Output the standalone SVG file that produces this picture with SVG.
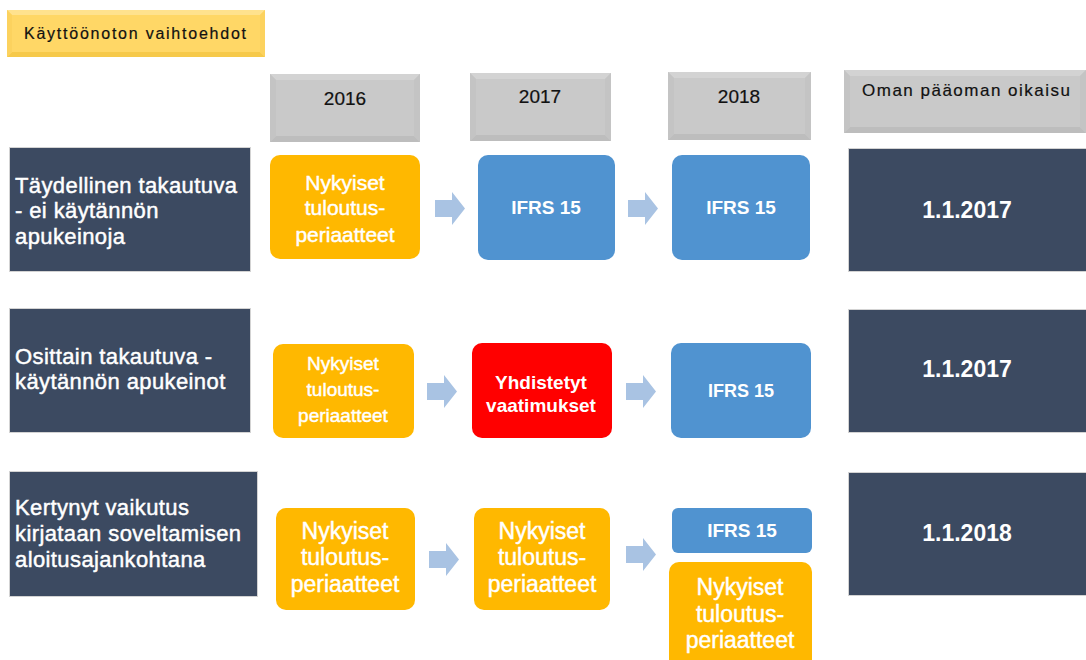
<svg xmlns="http://www.w3.org/2000/svg" xmlns:xlink="http://www.w3.org/1999/xlink" width="1086" height="660" viewBox="0 0 1086 660">
<style>
text { font-family: "Liberation Sans", Arial, sans-serif; }
.hdr { fill: #C9C9C9; }
.hb-t { fill: #D3D3D3; }
.hb-b { fill: #BDBDBD; }
.hb-s { fill: #C4C4C4; }
.tt { fill: #FFD766; }
.tb-t { fill: #FFE28E; }
.tb-b { fill: #F6C94A; }
.tb-s { fill: #FCD25E; }
.dark { fill: #3C4A61; stroke: #D3D3D3; stroke-width: 1; }
.org { fill: #FFB800; }
.blu { fill: #5093D0; }
.red { fill: #FF0000; }
.arr { fill: #A9C3E3; }
.htxt { fill: #111111; font-size: 19px; text-anchor: middle; stroke: #111111; stroke-width: 0.2px; }
.lbl { fill: #FFFFFF; font-size: 22px; letter-spacing: 0.4px; stroke: #FFFFFF; stroke-width: 0.45px; }
.otx { fill: #FFFFFF; text-anchor: middle; stroke: #FFFFFF; stroke-width: 0.45px; }
.btx { fill: #FFFFFF; font-weight: bold; text-anchor: middle; }
</style>
<defs>
<polygon id="arrow" points="0,8 17,8 17,0 30,16.5 17,33 17,25 0,25"/>
</defs>

<g id="title">
<rect class="tt" x="7" y="10" width="258" height="47"/>
<polygon class="tb-t" points="7,10 265,10 260,15 12,15"/>
<polygon class="tb-b" points="7,57 265,57 260,52 12,52"/>
<polygon class="tb-s" points="7,10 12,15 12,52 7,57"/>
<polygon class="tb-s" points="265,10 260,15 260,52 265,57"/>
<text x="24" y="39" font-size="16" fill="#111111" stroke="#111111" stroke-width="0.2" textLength="222">Käyttöönoton vaihtoehdot</text>
</g>

<g id="hdr-2016">
<rect class="hdr" x="270" y="74" width="150" height="68"/>
<polygon class="hb-t" points="270,74 420,74 414,80 276,80"/>
<polygon class="hb-b" points="270,142 420,142 414,136 276,136"/>
<polygon class="hb-s" points="270,74 276,80 276,136 270,142"/>
<polygon class="hb-s" points="420,74 414,80 414,136 420,142"/>
<text class="htxt" x="345" y="105">2016</text>
</g>
<g id="hdr-2017">
<rect class="hdr" x="470" y="73" width="141" height="68"/>
<polygon class="hb-t" points="470,73 611,73 605,79 476,79"/>
<polygon class="hb-b" points="470,141 611,141 605,135 476,135"/>
<polygon class="hb-s" points="470,73 476,79 476,135 470,141"/>
<polygon class="hb-s" points="611,73 605,79 605,135 611,141"/>
<text class="htxt" x="540" y="103">2017</text>
</g>
<g id="hdr-2018">
<rect class="hdr" x="668" y="72" width="143" height="68"/>
<polygon class="hb-t" points="668,72 811,72 805,78 674,78"/>
<polygon class="hb-b" points="668,140 811,140 805,134 674,134"/>
<polygon class="hb-s" points="668,72 674,78 674,134 668,140"/>
<polygon class="hb-s" points="811,72 805,78 805,134 811,140"/>
<text class="htxt" x="739" y="103">2018</text>
</g>
<g id="hdr-oman">
<rect class="hdr" x="844" y="70" width="242" height="63"/>
<polygon class="hb-t" points="844,70 1086,70 1080,76 850,76"/>
<polygon class="hb-b" points="844,133 1086,133 1080,127 850,127"/>
<polygon class="hb-s" points="844,70 850,76 850,127 844,133"/>
<polygon class="hb-s" points="1086,70 1080,76 1080,127 1086,133"/>
<text x="862" y="96" font-size="17" fill="#111111" stroke="#111111" stroke-width="0.2" textLength="208">Oman pääoman oikaisu</text>
</g>

<g id="row1-label">
<rect class="dark" x="9.5" y="147.5" width="241" height="124"/>
<text class="lbl" x="15" y="193">Täydellinen takautuva</text>
<text class="lbl" x="15" y="218">- ei käytännön</text>
<text class="lbl" x="15" y="244">apukeinoja</text>
</g>
<g id="row1-2016">
<rect class="org" x="270" y="155" width="150" height="104" rx="10"/>
<text class="otx" font-size="21" x="345" y="190">Nykyiset</text>
<text class="otx" font-size="21" x="345" y="215">tuloutus-</text>
<text class="otx" font-size="21" x="345" y="242">periaatteet</text>
</g>
<g id="row1-2017">
<rect class="blu" x="478" y="155" width="137" height="105" rx="10"/>
<text class="btx" font-size="19" x="546" y="214">IFRS 15</text>
</g>
<g id="row1-2018">
<rect class="blu" x="672" y="155" width="138" height="105" rx="10"/>
<text class="btx" font-size="19" x="741" y="214">IFRS 15</text>
</g>
<g id="row1-equity">
<rect class="dark" x="848.5" y="148.5" width="240" height="123"/>
<text class="btx" font-size="23" x="967" y="218">1.1.2017</text>
</g>

<g id="row2-label">
<rect class="dark" x="9.5" y="308.5" width="241" height="124"/>
<text class="lbl" x="15" y="364">Osittain takautuva -</text>
<text class="lbl" x="15" y="389">käytännön apukeinot</text>
</g>
<g id="row2-2016">
<rect class="org" x="273" y="344" width="141" height="94" rx="10"/>
<text class="otx" font-size="19" x="343" y="370">Nykyiset</text>
<text class="otx" font-size="19" x="343" y="396">tuloutus-</text>
<text class="otx" font-size="19" x="343" y="422">periaatteet</text>
</g>
<g id="row2-2017">
<rect class="red" x="472" y="343" width="140" height="95" rx="10"/>
<text class="btx" font-size="19" x="541" y="389">Yhdistetyt</text>
<text class="btx" font-size="19" x="541" y="412">vaatimukset</text>
</g>
<g id="row2-2018">
<rect class="blu" x="671" y="343" width="140" height="95" rx="10"/>
<text class="btx" font-size="18" x="741" y="397">IFRS 15</text>
</g>
<g id="row2-equity">
<rect class="dark" x="848.5" y="309.5" width="240" height="123"/>
<text class="btx" font-size="23" x="967" y="377">1.1.2017</text>
</g>

<g id="row3-label">
<rect class="dark" x="9.5" y="471.5" width="248" height="125"/>
<text class="lbl" x="15" y="515">Kertynyt vaikutus</text>
<text class="lbl" x="15" y="541">kirjataan soveltamisen</text>
<text class="lbl" x="15" y="567">aloitusajankohtana</text>
</g>
<g id="row3-2016">
<rect class="org" x="276" y="508" width="139" height="102" rx="10"/>
<text class="otx" font-size="23" x="345" y="539">Nykyiset</text>
<text class="otx" font-size="23" x="345" y="565">tuloutus-</text>
<text class="otx" font-size="23" x="345" y="592">periaatteet</text>
</g>
<g id="row3-2017">
<rect class="org" x="474" y="508" width="136" height="102" rx="10"/>
<text class="otx" font-size="23" x="542" y="539">Nykyiset</text>
<text class="otx" font-size="23" x="542" y="565">tuloutus-</text>
<text class="otx" font-size="23" x="542" y="592">periaatteet</text>
</g>
<g id="row3-2018-ifrs">
<rect class="blu" x="672" y="508" width="140" height="45" rx="6"/>
<text class="btx" font-size="19" x="742" y="537">IFRS 15</text>
</g>
<g id="row3-2018-current">
<rect class="org" x="669" y="562" width="143" height="110" rx="10"/>
<text class="otx" font-size="23" x="740" y="595">Nykyiset</text>
<text class="otx" font-size="23" x="740" y="622">tuloutus-</text>
<text class="otx" font-size="23" x="740" y="648">periaatteet</text>
</g>
<g id="row3-equity">
<rect class="dark" x="848.5" y="472.5" width="240" height="123"/>
<text class="btx" font-size="23" x="967" y="541">1.1.2018</text>
</g>

<g id="connectors">
<use xlink:href="#arrow" class="arr" x="435" y="192"/>
<use xlink:href="#arrow" class="arr" x="628" y="192"/>
<use xlink:href="#arrow" class="arr" x="427" y="375"/>
<use xlink:href="#arrow" class="arr" x="626" y="375"/>
<use xlink:href="#arrow" class="arr" x="429" y="543"/>
<use xlink:href="#arrow" class="arr" x="626" y="538"/>
</g>
</svg>
